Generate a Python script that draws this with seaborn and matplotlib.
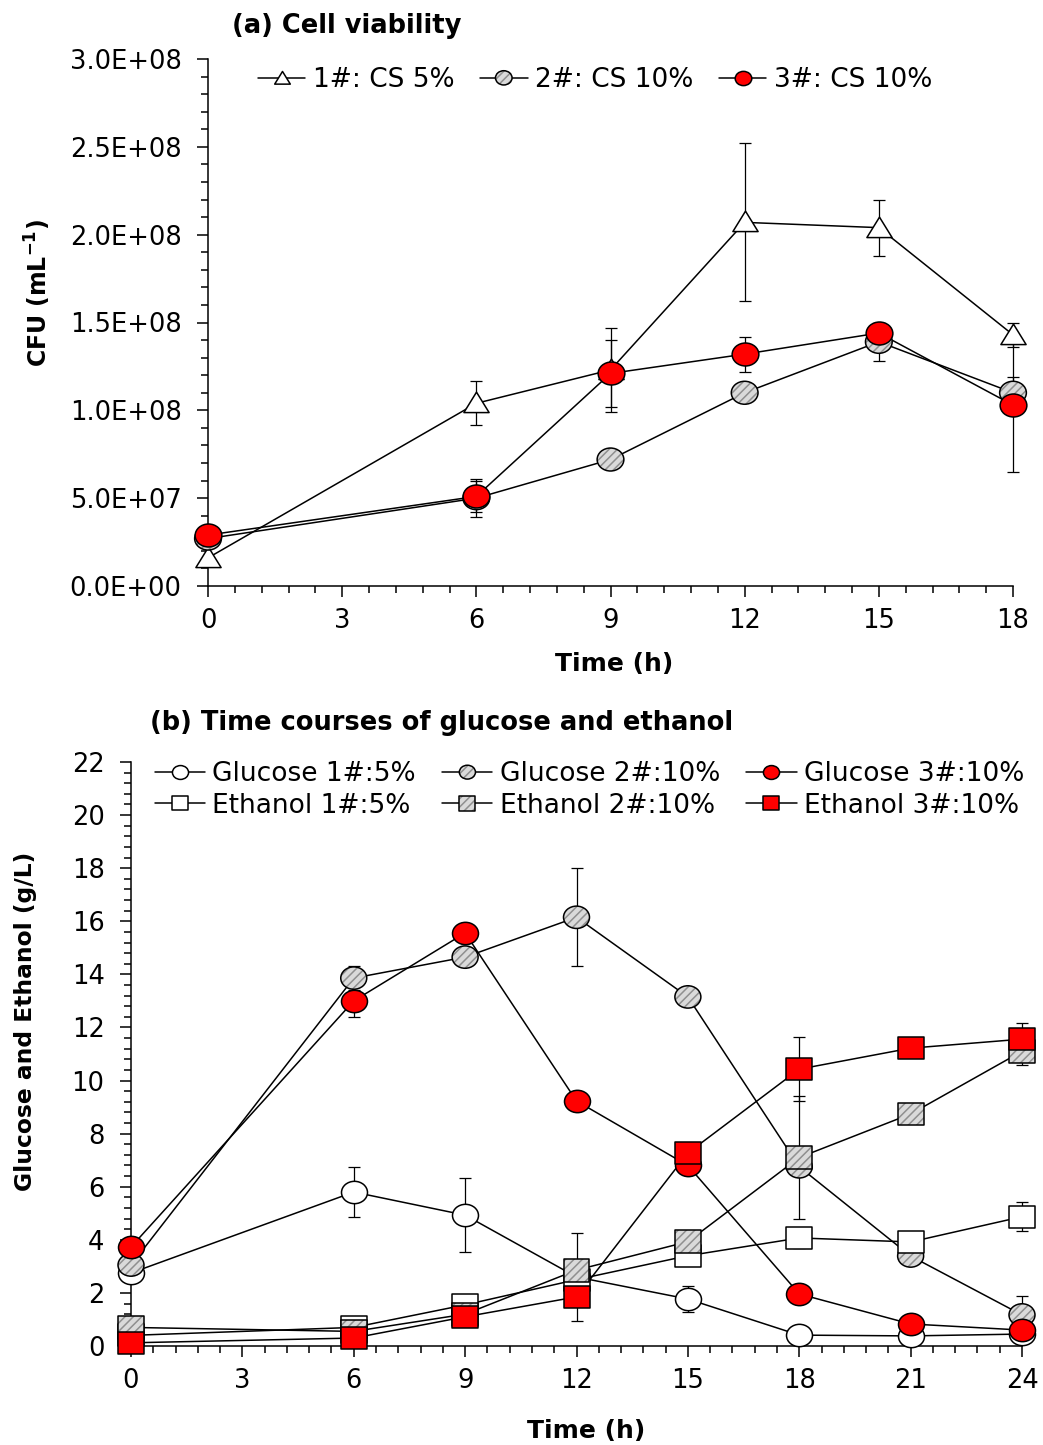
import numpy as np
import matplotlib
matplotlib.use("Agg")
import matplotlib.pyplot as plt
from matplotlib.path import Path
from matplotlib.markers import MarkerStyle
from matplotlib.lines import Line2D
from matplotlib.legend_handler import HandlerTuple
from matplotlib.ticker import MultipleLocator, FuncFormatter
import seaborn as sns

# ---------------- (a) cell viability ----------------
time_a = [0, 6, 9, 12, 15, 18]
cfu_1 = [1.6e7, 1.04e8, 1.23e8, 2.07e8, 2.04e8, 1.43e8]
cfu_1_err = [0, 1.25e7, 2.4e7, 4.5e7, 1.6e7, 0.7e7]
cfu_2 = [2.7e7, 5.0e7, 7.2e7, 1.10e8, 1.39e8, 1.10e8]
cfu_2_err = [0, 1.1e7, 0, 0, 1.1e7, 0.9e7]
cfu_3 = [2.9e7, 5.1e7, 1.21e8, 1.32e8, 1.44e8, 1.03e8]
cfu_3_err = [0, 0.9e7, 1.9e7, 1.0e7, 0.6e7, 3.8e7]
labels_a = ["1#: CS 5%", "2#: CS 10%", "3#: CS 10%"]
xticks_a = [0, 3, 6, 9, 12, 15, 18]

# ---------------- (b) glucose and ethanol ----------------
time_b = [0, 6, 9, 12, 15, 18, 21, 24]
glc_1 = [2.75, 5.8, 4.93, 2.6, 1.77, 0.41, 0.38, 0.45]
glc_1_err = [0.35, 0.95, 1.4, 1.65, 0.5, 0, 0, 0]
glc_2 = [3.05, 13.86, 14.65, 16.15, 13.15, 6.75, 3.39, 1.17]
glc_2_err = [0, 0.45, 0, 1.85, 0, 0, 0, 0.7]
glc_3 = [3.73, 13.0, 15.56, 9.23, 6.8, 1.96, 0.83, 0.6]
glc_3_err = [0, 0.6, 0, 0, 0, 0, 0, 0]
eth_1 = [0.4, 0.7, 1.55, 2.5, 3.4, 4.07, 3.92, 4.87]
eth_1_err = [0, 0, 0, 0, 0, 0.36, 0.2, 0.55]
eth_2 = [0.7, 0.55, 1.2, 2.86, 3.93, 7.1, 8.74, 11.1]
eth_2_err = [0, 0, 0, 0, 0, 2.3, 0, 0.5]
eth_3 = [0.12, 0.3, 1.1, 1.85, 7.27, 10.43, 11.22, 11.56]
eth_3_err = [0, 0, 0, 0, 0, 1.2, 0, 0.6]
labels_glc = ["Glucose 1#:5%", "Glucose 2#:10%", "Glucose 3#:10%"]
labels_eth = ["Ethanol 1#:5%", "Ethanol 2#:10%", "Ethanol 3#:10%"]
xticks_b = [0, 3, 6, 9, 12, 15, 18, 21, 24]

sns.set_style("ticks")
plt.rcParams.update({
    "font.family": ["DejaVu Sans"],
    "hatch.linewidth": 1.1,
    "axes.linewidth": 1.1,
    "xtick.color": "black",
    "ytick.color": "black",
    "text.color": "black",
    "axes.labelcolor": "black",
    "axes.edgecolor": "black",
})

W, H = 1043, 1445
fig = plt.figure(figsize=(W / 100, H / 100), dpi=100)

# marker shapes: slightly wider than tall
def _shape(verts):
    verts = np.asarray(verts, float)
    codes = [Path.MOVETO] + [Path.LINETO] * (len(verts) - 2) + [Path.CLOSEPOLY]
    return MarkerStyle(Path(verts, codes))

_circ = Path.unit_circle()
ELLIPSE = MarkerStyle(Path(_circ.vertices * np.array([1.0, 0.86]), _circ.codes))
SQUARE = _shape([(-1, -0.88), (1, -0.88), (1, 0.88), (-1, 0.88), (-1, -0.88)])
TRIANGLE = _shape([(-1, -0.72), (1, -0.72), (0, 0.9), (-1, -0.72)])

FILLS = {
    "open": dict(face="white", hatch=None),
    "hatched": dict(face="#dadada", hatch="////"),
    "red": dict(face="#ff0000", hatch=None),
}
HATCH_COLOR = "#8f8f8f"
LW = 1.1


def draw_series(ax, t, y, err, marker, size, fill, z):
    t = np.asarray(t, float)
    y = np.asarray(y, float)
    err = np.asarray(err, float)
    sns.lineplot(x=t, y=y, ax=ax, color="black", linewidth=LW, zorder=2,
                 legend=False, errorbar=None, sort=False)
    m = err > 0
    if m.any():
        eb = ax.errorbar(t[m], y[m], yerr=err[m], fmt="none", ecolor="black",
                         elinewidth=0.9, capsize=4.5, capthick=0.9, zorder=2.5)
        for art in eb.lines[1] + eb.lines[2]:
            art.set_clip_on(False)
    spec = FILLS[fill]
    handles = [Line2D([], [], color="black", linewidth=LW)]
    if spec["hatch"]:
        sns.scatterplot(x=t, y=y, ax=ax, marker=marker, s=size,
                        color=spec["face"], facecolor=spec["face"],
                        edgecolor=HATCH_COLOR, linewidth=0,
                        hatch=spec["hatch"], zorder=z, clip_on=False,
                        legend=False)
        handles.append(ax.collections[-1])
        sns.scatterplot(x=t, y=y, ax=ax, marker=marker, s=size,
                        color="none", facecolor="none", edgecolor="black",
                        linewidth=LW, zorder=z + 0.01, clip_on=False,
                        legend=False)
        handles.append(ax.collections[-1])
    else:
        sns.scatterplot(x=t, y=y, ax=ax, marker=marker, s=size,
                        color=spec["face"], facecolor=spec["face"],
                        edgecolor="black", linewidth=LW, zorder=z,
                        clip_on=False, legend=False)
        handles.append(ax.collections[-1])
    return tuple(handles)


def style_axis(ax, xmax, xticks, ymax, ymajor, yminor, labelsize):
    sns.despine(ax=ax)
    ax.set_xlim(0, xmax)
    ax.set_ylim(0, ymax)
    ax.set_xticks(xticks)
    ax.xaxis.set_minor_locator(MultipleLocator(0.6))
    ax.yaxis.set_major_locator(MultipleLocator(ymajor))
    ax.yaxis.set_minor_locator(MultipleLocator(yminor))
    ax.tick_params(which="major", direction="out", length=8, width=1.1,
                   labelsize=labelsize)
    ax.tick_params(which="minor", direction="out", length=5, width=1.1)
    ax.tick_params(axis="x", which="major", pad=8)
    ax.tick_params(axis="y", which="major", pad=11)


LEG_FS = 19
TUPLE_HANDLER = {tuple: HandlerTuple(ndivide=1, pad=0)}

# ---------------- panel (a) ----------------
ax1 = fig.add_axes([208 / W, 1 - 586 / H, 805 / W, 527 / H])
h1 = draw_series(ax1, time_a, cfu_1, cfu_1_err, TRIANGLE, 330, "open", 3.0)
h2 = draw_series(ax1, time_a, cfu_2, cfu_2_err, ELLIPSE, 370, "hatched", 3.1)
h3 = draw_series(ax1, time_a, cfu_3, cfu_3_err, ELLIPSE, 370, "red", 3.2)
style_axis(ax1, 18, xticks_a, 3.0e8, 5.0e7, 1.0e7, 18.5)
ax1.yaxis.set_major_formatter(FuncFormatter(lambda v, p: f"{v:.1E}"))
ax1.set_xlabel("Time (h)", fontsize=18, fontweight="bold")
ax1.xaxis.set_label_coords(0.504, -0.125)
ax1.set_ylabel(r"$\mathbf{CFU\ (mL^{-1})}$", fontsize=17)
ax1.yaxis.set_label_coords(-0.192, 0.556)
ax1.legend([h1, h2, h3], labels_a, handler_map=TUPLE_HANDLER,
           loc="center left", bbox_to_anchor=(0.062, 0.96), frameon=False,
           fontsize=LEG_FS, handlelength=1.8, handletextpad=0.3,
           columnspacing=0.95, ncol=3, borderpad=0, borderaxespad=0,
           markerscale=0.62, scatterpoints=1, scatteryoffsets=[0.5])
fig.text(232 / W, 1 - 26 / H, "(a) Cell viability", fontsize=18.5,
         fontweight="bold", ha="left", va="center")

# ---------------- panel (b) ----------------
ax2 = fig.add_axes([131 / W, 1 - 1346 / H, 891 / W, 584 / H])
g1 = draw_series(ax2, time_b, glc_1, glc_1_err, ELLIPSE, 350, "open", 3.0)
g2 = draw_series(ax2, time_b, glc_2, glc_2_err, ELLIPSE, 350, "hatched", 3.1)
g3 = draw_series(ax2, time_b, glc_3, glc_3_err, ELLIPSE, 350, "red", 3.2)
e1 = draw_series(ax2, time_b, eth_1, eth_1_err, SQUARE, 350, "open", 3.3)
e2 = draw_series(ax2, time_b, eth_2, eth_2_err, SQUARE, 350, "hatched", 3.4)
e3 = draw_series(ax2, time_b, eth_3, eth_3_err, SQUARE, 350, "red", 3.5)
style_axis(ax2, 24, xticks_b, 22, 2, 0.4, 18.5)
ax2.set_xlabel("Time (h)", fontsize=18, fontweight="bold")
ax2.xaxis.set_label_coords(0.511, -0.125)
ax2.set_ylabel("Glucose and Ethanol (g/L)", fontsize=16.8, fontweight="bold")
ax2.yaxis.set_label_coords(-0.105, 0.556)
handles_b = [g1, e1, g2, e2, g3, e3]
labels_b = [labels_glc[0], labels_eth[0], labels_glc[1], labels_eth[1],
            labels_glc[2], labels_eth[2]]
ax2.legend(handles_b, labels_b, handler_map=TUPLE_HANDLER,
           loc="center left", bbox_to_anchor=(0.027, 0.952), frameon=False,
           fontsize=LEG_FS, handlelength=1.9, handletextpad=0.27,
           columnspacing=1.0, labelspacing=0.2, ncol=3, borderpad=0,
           borderaxespad=0, markerscale=0.62, scatterpoints=1,
           scatteryoffsets=[0.5])
fig.text(150 / W, 1 - 723 / H, "(b) Time courses of glucose and ethanol",
         fontsize=18.5, fontweight="bold", ha="left", va="center")

fig.savefig("out.png", dpi=100)
